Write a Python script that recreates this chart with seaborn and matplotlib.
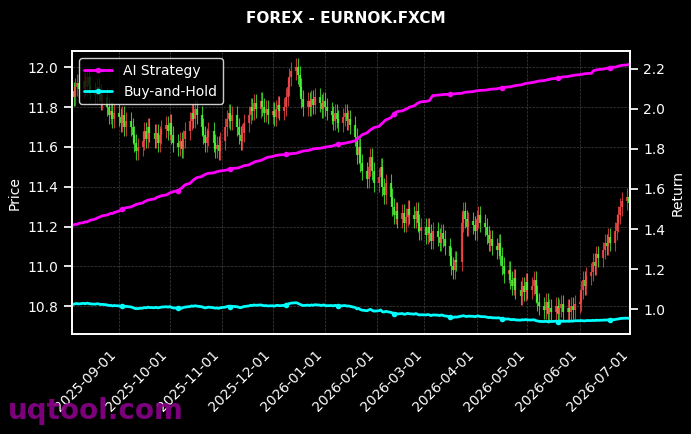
import numpy as np
import pandas as pd
import matplotlib
matplotlib.use("Agg")
import matplotlib.pyplot as plt
import matplotlib.dates as mdates
import seaborn as sns

# --- data (business days 2025-08-04 .. 2026-07-01) ---
start_date = "2025-08-04"
end_date = "2026-07-01"

close_prices = [
    11.88, 11.85, 11.90, 11.92, 11.89,
    11.93, 11.90, 11.95, 11.91, 11.88,
    11.86, 11.90, 11.87, 11.83, 11.85,
    11.80, 11.76, 11.78, 11.74, 11.77,
    11.75, 11.72, 11.76, 11.70, 11.73,
    11.70, 11.66, 11.62, 11.58, 11.60,
    11.63, 11.68, 11.64, 11.70, 11.67,
    11.64, 11.67, 11.62, 11.66, 11.69,
    11.71, 11.68, 11.72, 11.66, 11.62,
    11.60, 11.63, 11.59, 11.64, 11.68,
    11.73, 11.77, 11.74, 11.79, 11.76,
    11.70, 11.66, 11.62, 11.65, 11.68,
    11.62, 11.59, 11.61, 11.58, 11.63,
    11.70, 11.74, 11.77, 11.73, 11.76,
    11.70, 11.66, 11.63, 11.67, 11.72,
    11.76, 11.80, 11.78, 11.82, 11.79,
    11.83, 11.80, 11.77, 11.79, 11.76,
    11.78, 11.75, 11.79, 11.81, 11.78,
    11.80, 11.85, 11.90, 11.95, 11.98,
    12.00, 11.96, 11.90, 11.84, 11.80,
    11.83, 11.80, 11.84, 11.81, 11.85,
    11.82, 11.79, 11.83, 11.80, 11.78,
    11.76, 11.73, 11.77, 11.74, 11.72,
    11.75, 11.77, 11.73, 11.74, 11.71,
    11.65, 11.56, 11.60, 11.52, 11.48,
    11.44, 11.50, 11.55, 11.48, 11.42,
    11.45, 11.50, 11.40, 11.36, 11.42,
    11.35, 11.30, 11.26, 11.28, 11.24,
    11.27, 11.22, 11.25, 11.29, 11.26,
    11.24, 11.28, 11.22, 11.18, 11.20,
    11.16, 11.20, 11.17, 11.13, 11.18,
    11.15, 11.12, 11.17, 11.14, 11.10,
    11.05, 11.00, 10.98, 11.03, 11.02,
    11.22, 11.28, 11.24, 11.20, 11.23,
    11.21, 11.18, 11.24, 11.26, 11.22,
    11.20, 11.16, 11.12, 11.14, 11.10,
    11.08, 11.12, 11.05, 11.00, 10.96,
    10.98, 10.93, 10.90, 10.94, 10.88,
    10.85, 10.90, 10.87, 10.92, 10.88,
    10.90, 10.93, 10.86, 10.82, 10.80,
    10.78, 10.82, 10.76, 10.79, 10.77,
    10.80, 10.76, 10.79, 10.81, 10.77,
    10.79, 10.77, 10.80, 10.78, 10.81,
    10.82, 10.88, 10.93, 10.90, 10.95,
    10.97, 11.02, 11.00, 11.06, 11.04,
    11.08, 11.12, 11.10, 11.15, 11.12,
    11.18, 11.22, 11.26, 11.30, 11.33,
    11.35, 11.32, 11.34,
]
first_open = 11.88

ai_strategy = [
    1.418, 1.420, 1.424, 1.423, 1.428,
    1.432, 1.436, 1.435, 1.440, 1.444,
    1.450, 1.455, 1.458, 1.462, 1.466,
    1.470, 1.474, 1.478, 1.477, 1.482,
    1.490, 1.495, 1.498, 1.502, 1.506,
    1.510, 1.514, 1.518, 1.522, 1.525,
    1.530, 1.536, 1.540, 1.544, 1.546,
    1.550, 1.556, 1.560, 1.562, 1.566,
    1.570, 1.574, 1.580, 1.583, 1.586,
    1.592, 1.598, 1.604, 1.612, 1.620,
    1.628, 1.636, 1.644, 1.650, 1.656,
    1.662, 1.668, 1.672, 1.676, 1.678,
    1.680, 1.683, 1.686, 1.688, 1.690,
    1.693, 1.695, 1.698, 1.700, 1.702,
    1.704, 1.706, 1.709, 1.712, 1.716,
    1.720, 1.725, 1.729, 1.733, 1.737,
    1.742, 1.746, 1.750, 1.754, 1.758,
    1.762, 1.765, 1.767, 1.768, 1.770,
    1.771, 1.772, 1.774, 1.775, 1.776,
    1.778, 1.781, 1.784, 1.786, 1.789,
    1.792, 1.794, 1.797, 1.799, 1.801,
    1.803, 1.805, 1.806, 1.808, 1.810,
    1.813, 1.816, 1.819, 1.822, 1.825,
    1.827, 1.829, 1.830, 1.832, 1.834,
    1.840, 1.848, 1.855, 1.862, 1.870,
    1.880, 1.888, 1.895, 1.900, 1.906,
    1.912, 1.920, 1.928, 1.936, 1.944,
    1.955, 1.965, 1.975, 1.982, 1.986,
    1.990, 1.994, 1.998, 2.002, 2.008,
    2.015, 2.022, 2.028, 2.032, 2.035,
    2.037, 2.039, 2.041, 2.055, 2.066,
    2.068, 2.069, 2.070, 2.071, 2.072,
    2.072, 2.073, 2.074, 2.075, 2.076,
    2.077, 2.080, 2.082, 2.083, 2.084,
    2.086, 2.088, 2.090, 2.091, 2.092,
    2.093, 2.094, 2.096, 2.097, 2.098,
    2.100, 2.102, 2.103, 2.105, 2.107,
    2.109, 2.110, 2.112, 2.114, 2.116,
    2.119, 2.121, 2.124, 2.126, 2.128,
    2.131, 2.133, 2.135, 2.137, 2.139,
    2.141, 2.143, 2.145, 2.147, 2.149,
    2.152, 2.154, 2.156, 2.157, 2.159,
    2.161, 2.163, 2.165, 2.166, 2.168,
    2.170, 2.172, 2.173, 2.175, 2.176,
    2.177, 2.188, 2.192, 2.194, 2.196,
    2.198, 2.200, 2.202, 2.204, 2.206,
    2.208, 2.210, 2.213, 2.215, 2.217,
    2.219, 2.221, 2.223,
]

buy_and_hold = [
    1.026, 1.024, 1.027, 1.028, 1.026,
    1.029, 1.027, 1.030, 1.028, 1.026,
    1.025, 1.027, 1.026, 1.023, 1.024,
    1.021, 1.018, 1.019, 1.016, 1.018,
    1.016, 1.014, 1.016, 1.012, 1.014,
    1.011, 1.008, 1.005, 1.002, 1.003,
    1.005, 1.008, 1.006, 1.010, 1.008,
    1.007, 1.009, 1.006, 1.008, 1.010,
    1.012, 1.010, 1.013, 1.009, 1.006,
    1.005, 1.007, 1.004, 1.008, 1.010,
    1.013, 1.016, 1.014, 1.017, 1.015,
    1.012, 1.009, 1.006, 1.008, 1.010,
    1.007, 1.005, 1.006, 1.004, 1.007,
    1.010, 1.013, 1.015, 1.012, 1.014,
    1.012, 1.009, 1.007, 1.010, 1.013,
    1.016, 1.019, 1.018, 1.021, 1.019,
    1.021, 1.019, 1.017, 1.018, 1.016,
    1.017, 1.015, 1.018, 1.019, 1.017,
    1.019, 1.022, 1.025, 1.028, 1.030,
    1.032, 1.029, 1.025, 1.021, 1.018,
    1.020, 1.018, 1.021, 1.019, 1.022,
    1.020, 1.018, 1.021, 1.019, 1.017,
    1.018, 1.016, 1.019, 1.017, 1.015,
    1.017, 1.018, 1.015, 1.016, 1.014,
    1.008, 1.001, 1.004, 0.998, 0.995,
    0.992, 0.996, 0.999, 0.994, 0.990,
    0.992, 0.996, 0.988, 0.985, 0.989,
    0.984, 0.981, 0.978, 0.979, 0.976,
    0.978, 0.974, 0.976, 0.979, 0.977,
    0.975, 0.978, 0.974, 0.971, 0.972,
    0.971, 0.973, 0.971, 0.968, 0.971,
    0.970, 0.968, 0.971, 0.969, 0.966,
    0.963, 0.960, 0.958, 0.961, 0.960,
    0.965, 0.967, 0.965, 0.963, 0.965,
    0.964, 0.962, 0.965, 0.966, 0.963,
    0.962, 0.960, 0.958, 0.959, 0.957,
    0.956, 0.957, 0.954, 0.952, 0.950,
    0.951, 0.948, 0.947, 0.949, 0.946,
    0.945, 0.947, 0.946, 0.948, 0.946,
    0.946, 0.947, 0.943, 0.941, 0.939,
    0.938, 0.940, 0.937, 0.939, 0.938,
    0.940, 0.938, 0.939, 0.941, 0.939,
    0.940, 0.939, 0.941, 0.940, 0.942,
    0.942, 0.943, 0.942, 0.941, 0.943,
    0.943, 0.944, 0.943, 0.945, 0.944,
    0.945, 0.946, 0.945, 0.947, 0.946,
    0.948, 0.950, 0.951, 0.953, 0.954,
    0.955, 0.954, 0.955,
]

dates = pd.bdate_range(start_date, end_date)
n = min(len(dates), len(close_prices), len(ai_strategy), len(buy_and_hold))
dates = dates[:n]

df = pd.DataFrame({
    "date": dates,
    "close": close_prices[:n],
    "ai": ai_strategy[:n],
    "bh": buy_and_hold[:n],
})
df["open"] = [first_open] + df["close"].tolist()[:-1]
wick = 0.045
df["high"] = df[["open", "close"]].max(axis=1) + wick
df["low"] = df[["open", "close"]].min(axis=1) - wick

# --- style ---
sns.set_theme(style="dark")
plt.style.use("dark_background")
plt.rcParams["font.family"] = ["DejaVu Sans"]

fig = plt.figure(figsize=(6.91, 4.34), dpi=100, facecolor="black")
ax = fig.add_axes([0.104, 0.230, 0.808, 0.652])
ax.set_facecolor("black")

up = df["close"] >= df["open"]
colors = np.where(up, "#ff4a4a", "#4cff3a")
ax.vlines(df["date"], df["low"], df["high"], colors=colors, lw=0.8, alpha=0.75)
ax.vlines(df["date"], df[["open", "close"]].min(axis=1), df[["open", "close"]].max(axis=1),
          colors=colors, lw=1.6, alpha=0.8)

ax.set_xlim(df["date"].iloc[0], df["date"].iloc[-1])
ax.set_ylim(10.66, 12.08)
ax.set_ylabel("Price", color="white", fontsize=10)
ax.grid(True, color="gray", linestyle="--", linewidth=0.5, alpha=0.5)

ax2 = ax.twinx()
sns.lineplot(data=df, x="date", y="ai", ax=ax2, color="#ff00ff", lw=2,
             marker="o", markersize=4, markeredgewidth=0, markevery=(22, 23),
             label="AI Strategy")
sns.lineplot(data=df, x="date", y="bh", ax=ax2, color="#00ffff", lw=2,
             marker="o", markersize=4, markeredgewidth=0, markevery=(22, 23),
             label="Buy-and-Hold")
ax2.set_ylim(0.875, 2.2875)
ax2.set_ylabel("Return", color="white", fontsize=10)
ax2.set_xlabel("")
ax.set_xlabel("")
ax2.grid(False)

ax.xaxis.set_major_locator(mdates.MonthLocator(bymonthday=1))
ax.xaxis.set_major_formatter(mdates.DateFormatter("%Y-%m-%d"))
for lbl in ax.get_xticklabels():
    lbl.set_rotation(45)
    lbl.set_ha("right")

for a in (ax, ax2):
    a.tick_params(colors="white", labelsize=10)
    for sp in a.spines.values():
        sp.set_color("white")

leg = ax2.legend(loc="upper left", facecolor="black", edgecolor="white",
                 fontsize=10, framealpha=0.8)
for t in leg.get_texts():
    t.set_color("white")

fig.suptitle("FOREX - EURNOK.FXCM", color="white", fontsize=11,
             fontweight="bold", y=0.975)
fig.text(0.012, 0.035, "uqtool.com", color="#8b008b", fontsize=20,
         fontweight="bold", alpha=0.9)

fig.savefig("out.png", dpi=100, facecolor="black")
